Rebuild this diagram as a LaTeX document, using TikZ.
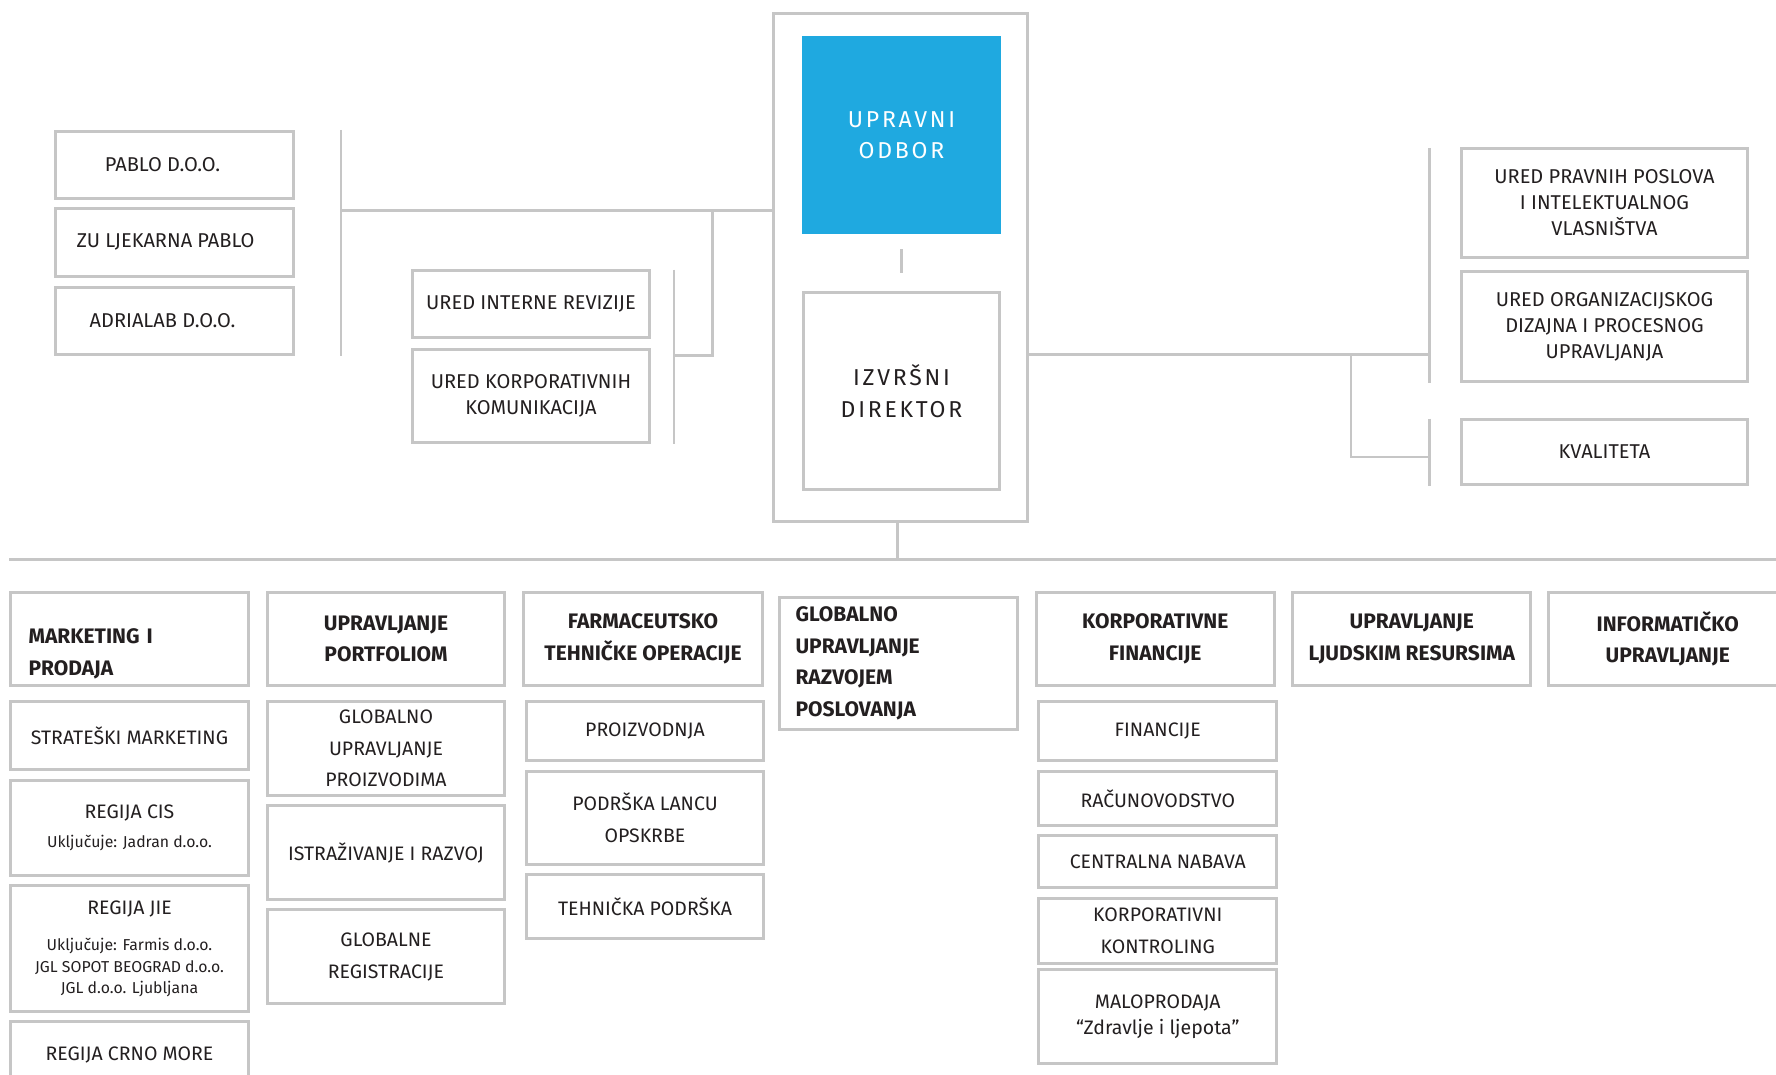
\documentclass[tikz,border=0pt]{standalone}
\usepackage{fontspec}
\setmainfont{Fira Sans}
\newfontfamily\spaced[LetterSpace=12]{Fira Sans}
\definecolor{boxgrey}{HTML}{C6C6C6}
\definecolor{ink}{HTML}{231F20}
\definecolor{boardblue}{HTML}{1FA9E0}
\newcommand{\sub}{\fontsize{15.8}{20}\selectfont}

\begin{document}
\begin{tikzpicture}[x=1pt, y=-1pt,
    words/.style={align=center, text=ink, inner sep=0pt, font=\fontsize{19.5}{31.7}\selectfont},
    unit/.style={words, draw=boxgrey, line width=3pt},
    bold/.style={font=\fontsize{21}{31.7}\selectfont\bfseries},
    near/.style={font=\fontsize{20}{26}\selectfont},
    link/.style={draw=boxgrey, line width=2.6pt}]
  \useasboundingbox (0,0) rectangle (1776,1075);

  % -=-=-=-=- BOARD AND CEO -=-=-=-=-
  \node[unit, minimum width=254pt, minimum height=508pt] (frame) at (900.75,267.25) {};
  \node[words, fill=boardblue, text=white, minimum width=199pt, minimum height=198.5pt,
        font=\fontsize{23}{31.7}\spaced] (odbor) at (901.5,135.25) {UPRAVNI\\ODBOR};
  \node[unit, minimum width=196.5pt, minimum height=196.5pt,
        font=\fontsize{23}{31.7}\spaced] (direktor) at (901.5,391) {IZVRŠNI\\DIREKTOR};
  \draw[link] ([yshift=-14.5pt]odbor.south) -- ([yshift=18.5pt]direktor.north);

  % -=-=-=-=- LEFT SIDE -=-=-=-=-
  \node[unit, near, minimum width=237.5pt, minimum height=67pt] (pablo) at (174.5,164.75) {PABLO D.O.O.\hspace*{24pt}};
  \node[unit, near, minimum width=237.5pt, minimum height=68pt] (zu) at (174.5,242.25) {ZU LJEKARNA PABLO\hspace*{18pt}};
  \node[unit, near, minimum width=237.5pt, minimum height=66.5pt] (adria) at (174.5,321) {ADRIALAB D.O.O.\hspace*{24pt}};

  \node[unit, near, minimum width=237.5pt, minimum height=67pt] (revizija) at (531,304.25) {URED INTERNE REVIZIJE};
  \node[unit, near, minimum width=237.5pt, minimum height=92.5pt] (komunik) at (531,396) {URED KORPORATIVNIH\\KOMUNIKACIJA};

  \coordinate (lbarT) at (341,130);
  \coordinate (lbarB) at (341,355.5);
  \coordinate (ljoin) at (341,210.5);
  \coordinate (lbranch) at (712.5,210.5);
  \coordinate (mbarT) at (674,269.5);
  \coordinate (mbarB) at (674,443.5);
  \coordinate (mjoin) at (674,355.5);
  \draw[link] (lbarT) -- (lbarB);
  \draw[link] (ljoin) -- (ljoin -| frame.west);
  \draw[link] (lbranch) |- (mjoin);
  \draw[link] (mbarT) -- (mbarB);

  % -=-=-=-=- RIGHT SIDE -=-=-=-=-
  \node[unit, near, minimum width=285.5pt, minimum height=108.5pt] (pravni) at (1604.5,203) {URED PRAVNIH POSLOVA\\I INTELEKTUALNOG\\VLASNIŠTVA};
  \node[unit, near, minimum width=285.5pt, minimum height=109.5pt] (organiz) at (1604.5,326.5) {URED ORGANIZACIJSKOG\\DIZAJNA I PROCESNOG\\UPRAVLJANJA};
  \node[unit, near, minimum width=285.5pt, minimum height=64.5pt] (kvaliteta) at (1604.5,452) {KVALITETA};

  \coordinate (rjoin) at (1429.5,354.5);
  \coordinate (rbarT) at (1429.5,148);
  \coordinate (rbarB) at (1429.5,382.5);
  \coordinate (rbranch) at (1351,354.5);
  \coordinate (kjoin) at (1429.5,457);
  \coordinate (kbarT) at (1429.5,418.5);
  \coordinate (kbarB) at (1429.5,485.5);
  \draw[link] (frame.east |- rjoin) -- (rjoin);
  \draw[link] (rbarT) -- (rbarB);
  \draw[link] (rbranch) |- (kjoin);
  \draw[link] (kbarT) -- (kbarB);

  % -=-=-=-=- MAIN LINE -=-=-=-=-
  \coordinate (hub) at (897.5,559.5);
  \coordinate (hl) at (9,559.5);
  \coordinate (hr) at (1776,559.5);
  \draw[link] (hub |- frame.south) -- (hub);
  \draw[link] (hl) -- (hr);

  % -=-=-=-=- MARKETING I PRODAJA -=-=-=-=-
  \node[unit, minimum width=238.5pt, minimum height=93.5pt] (mark) at (129.5,639) {};
  \node[words, bold, text width=202pt, align=left] (markt) at (129.5,654) {MARKETING I\\PRODAJA};
  \node[unit, minimum width=238.5pt, minimum height=67.5pt] (strat) at (129.5,735.5) {STRATEŠKI MARKETING};
  \node[unit, minimum width=238.5pt, minimum height=95pt] (cis) at (129.5,827.75) {REGIJA CIS\\[-3.4pt]{\sub Uključuje: Jadran d.o.o.}};
  \node[unit, minimum width=238.5pt, minimum height=126pt] (jie) at (129.5,948.75) {REGIJA JIE\\[4.5pt]{\sub Uključuje: Farmis d.o.o.}\\[-10.2pt]{\sub JGL SOPOT BEOGRAD d.o.o.}\\[-10.2pt]{\sub JGL d.o.o. Ljubljana}};
  \node[unit, minimum width=238.5pt, minimum height=67.5pt] (crno) at (129.5,1055) {REGIJA CRNO MORE};

  % -=-=-=-=- UPRAVLJANJE PORTFOLIOM -=-=-=-=-
  \node[unit, bold, minimum width=237.5pt, minimum height=93.5pt] (port) at (386,639) {UPRAVLJANJE\\PORTFOLIOM};
  \node[unit, minimum width=237.5pt, minimum height=93.5pt] (globproiz) at (386,748.5) {GLOBALNO\\UPRAVLJANJE\\PROIZVODIMA};
  \node[unit, minimum width=237.5pt, minimum height=93.5pt] (istraz) at (386,852.5) {ISTRAŽIVANJE I RAZVOJ};
  \node[unit, minimum width=237.5pt, minimum height=94pt] (globreg) at (386,956.75) {GLOBALNE\\REGISTRACIJE};

  % -=-=-=-=- FARMACEUTSKO TEHNICKE OPERACIJE -=-=-=-=-
  \node[unit, bold, minimum width=238.5pt, minimum height=93.5pt] (farm) at (643,639) {FARMACEUTSKO\\TEHNIČKE OPERACIJE};
  \node[unit, minimum width=237.5pt, minimum height=58.5pt] (proizv) at (645,731) {PROIZVODNJA};
  \node[unit, minimum width=237.5pt, minimum height=93.5pt] (lanac) at (645,818) {PODRŠKA LANCU\\OPSKRBE};
  \node[unit, minimum width=237.5pt, minimum height=64pt] (tehpod) at (645,906.75) {TEHNIČKA PODRŠKA};

  % -=-=-=-=- RAZVOJ POSLOVANJA -=-=-=-=-
  \node[unit, bold, text width=206pt, align=left, minimum width=238.5pt, minimum height=132pt] (razvoj) at (898.5,663.25) {GLOBALNO\\UPRAVLJANJE\\RAZVOJEM\\POSLOVANJA};

  % -=-=-=-=- KORPORATIVNE FINANCIJE -=-=-=-=-
  \node[unit, bold, minimum width=238pt, minimum height=93.5pt] (korpfin) at (1155.25,639) {KORPORATIVNE\\FINANCIJE};
  \node[unit, minimum width=238pt, minimum height=58.5pt] (fin) at (1157.75,731) {FINANCIJE};
  \node[unit, minimum width=238pt, minimum height=54pt] (racun) at (1157.75,798.25) {RAČUNOVODSTVO};
  \node[unit, minimum width=238pt, minimum height=52.5pt] (nabava) at (1157.75,861.5) {CENTRALNA NABAVA};
  \node[unit, minimum width=238pt, minimum height=64.5pt] (kontrol) at (1157.75,931) {KORPORATIVNI\\KONTROLING};
  \node[unit, minimum width=238pt, minimum height=94pt] (malo) at (1157.75,1016.75) {MALOPRODAJA\\[-5.7pt]“Zdravlje i ljepota”};

  % -=-=-=-=- OSTALO -=-=-=-=-
  \node[unit, bold, minimum width=238pt, minimum height=93.5pt] (ljudski) at (1411.75,639) {UPRAVLJANJE\\LJUDSKIM RESURSIMA};
  \node[unit, bold, minimum width=238pt, minimum height=93.5pt] (info) at (1667.75,639) {INFORMATIČKO\\UPRAVLJANJE};
\end{tikzpicture}
\end{document}
